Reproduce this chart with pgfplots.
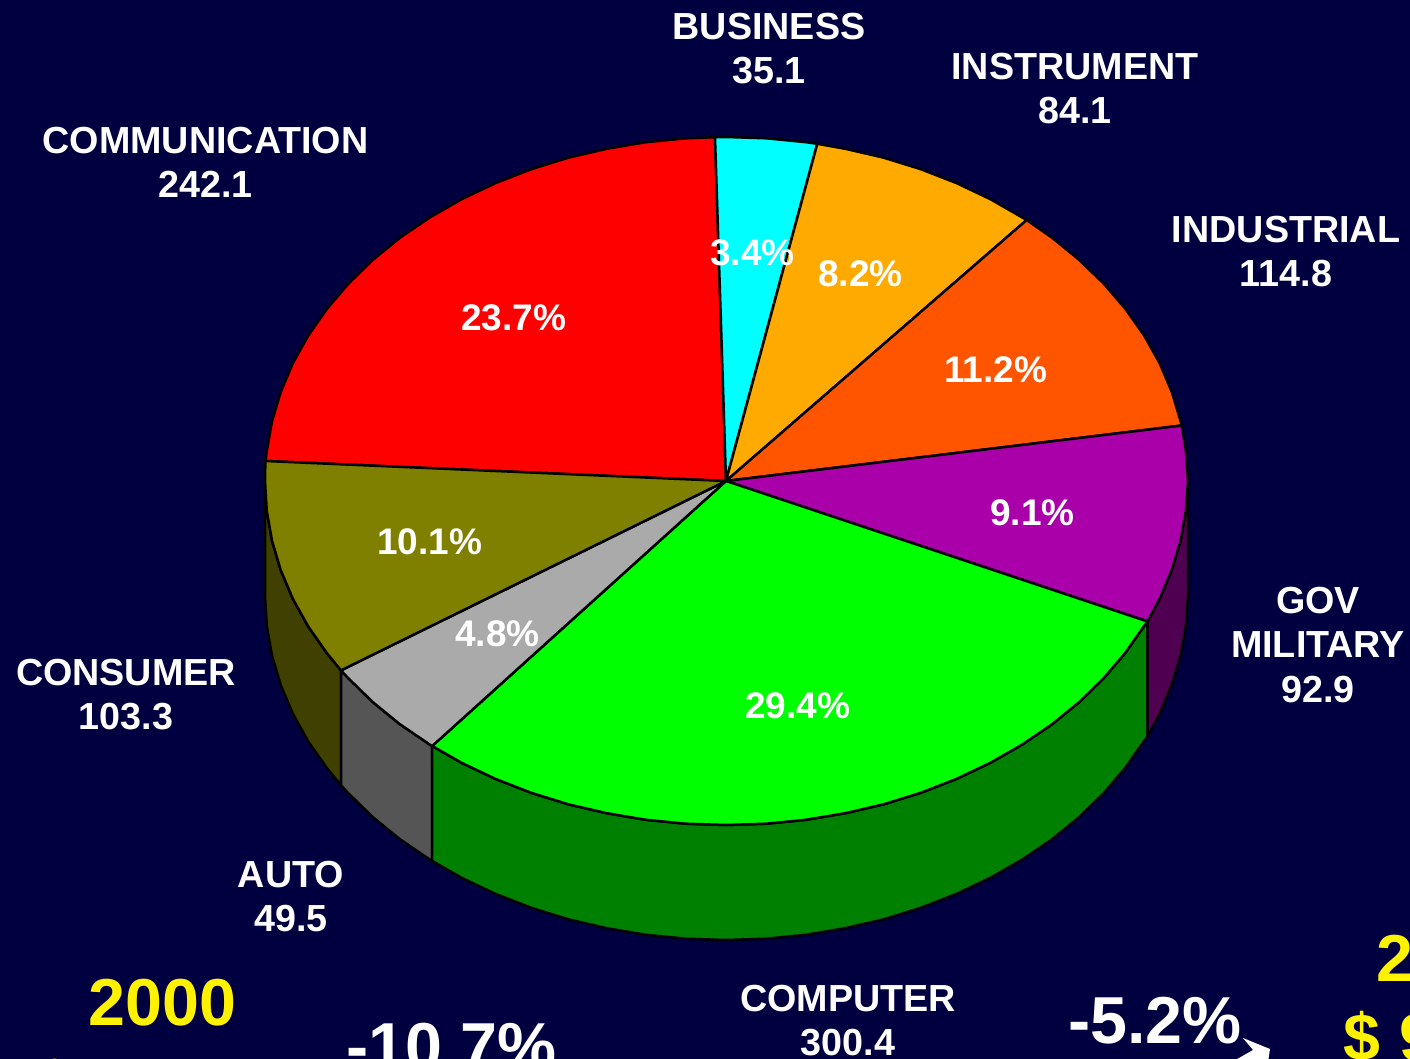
\documentclass[border=0pt]{standalone}
\usepackage{fontspec}
\setmainfont{Liberation Sans}
\usepackage{pgfplots}
\pgfplotsset{compat=1.18}

\definecolor{bg}{HTML}{000040}

% one unit of the axis is one pixel of the reference, y runs downwards
\newcommand{\lab}[3]{\node[white,align=center,font=\fontsize{18.85}{22.3}\selectfont\bfseries] at (axis cs:#1,#2) {#3};}
\newcommand{\pct}[3]{\node[white,font=\fontsize{18.5}{22}\selectfont\bfseries] at (axis cs:#1,#2) {#3};}
\newcommand{\bigt}[4]{\node[#4,anchor=base,font=\fontsize{33.2}{36}\selectfont\bfseries] at (axis cs:#1,#2) {#3};}

\begin{document}
\begin{tikzpicture}
\fill[bg] (0,0) rectangle (705pt,529.5pt);
\begin{axis}[
    at={(0,0)}, anchor=south west,
    scale only axis,
    width=705pt, height=529.5pt,
    xmin=0, xmax=1410, ymin=0, ymax=1059,
    y dir=reverse,
    hide axis,
    clip=true,
    every axis plot/.append style={line width=1.25pt, line join=round},
]
% sides
\addplot[fill={rgb,255:red,64;green,64;blue,0}, draw=black] coordinates {
 (265,481) (266.8,511) (272,540.7) (280.7,570) (292.8,598.7) (308.2,626.4) (326.8,653) (341,670.4)
 (341,785.4) (326.8,768) (308.2,741.4) (292.8,713.7) (280.7,685) (272,655.7) (266.8,626) (265,596)
} -- cycle;
\addplot[fill={rgb,255:red,85;green,85;blue,85}, draw=black] coordinates {
 (341,670.4) (348.4,678.3) (372.9,702.2) (400,724.3) (429.7,744.5) (432.2,746)
 (432.2,861) (429.7,859.5) (400,839.3) (372.9,817.2) (348.4,793.3) (341,785.4)
} -- cycle;
\addplot[fill={rgb,255:red,0;green,128;blue,0}, draw=black] coordinates {
 (432.2,746) (461.6,762.8) (495.5,778.9) (531.2,792.8) (568.3,804.3) (606.7,813.2) (646,819.8) (685.8,823.7) (726,825)
 (766.2,823.7) (806,819.8) (845.3,813.2) (883.7,804.3) (920.8,792.8) (956.5,778.9) (990.4,762.8) (1022.3,744.5)
 (1052,724.3) (1079.1,702.2) (1103.6,678.3) (1125.2,653) (1143.8,626.4) (1147.6,621.5)
 (1147.6,736.5) (1143.8,741.4) (1125.2,768) (1103.6,793.3) (1079.1,817.2) (1052,839.3) (1022.3,859.5)
 (990.4,877.8) (956.5,893.9) (920.8,907.8) (883.7,919.3) (845.3,928.2) (806,934.8) (766.2,938.7) (726,940)
 (685.8,938.7) (646,934.8) (606.7,928.2) (568.3,919.3) (531.2,907.8) (495.5,893.9) (461.6,877.8) (432.2,861)
} -- cycle;
\addplot[fill={rgb,255:red,80;green,0;blue,80}, draw=black] coordinates {
 (1147.6,621.5) (1159.7,598.7) (1171.8,570) (1180.6,540.7) (1185.9,511) (1188,481)
 (1188,596) (1185.9,626) (1180.6,655.7) (1171.8,685) (1159.7,713.7) (1147.6,736.5)
} -- cycle;
% top of the pie
\addplot[fill={rgb,255:red,255;green,0;blue,0}, draw=black] coordinates {
 (726,481) (715,137.2) (685.8,138.3) (646,142.2) (606.7,148.8) (568.3,157.7) (531.2,169.2) (495.5,183.1)
 (461.6,199.2) (429.7,217.5) (400,237.7) (372.9,259.8) (348.4,283.7) (326.8,309) (308.2,335.6)
 (292.8,363.3) (280.7,392) (272,421.3) (266.8,451) (265.4,461)
} -- cycle;
\addplot[fill={rgb,255:red,0;green,255;blue,255}, draw=black] coordinates {
 (726,481) (817.3,143.8) (806,142.2) (766.2,138.3) (726,137) (715,137.2)
} -- cycle;
\addplot[fill={rgb,255:red,255;green,170;blue,0}, draw=black] coordinates {
 (726,481) (1026.7,220) (1022.3,217.5) (990.4,199.2) (956.5,183.1) (920.8,169.2) (883.7,157.7) (845.3,148.8) (817.3,143.8)
} -- cycle;
\addplot[fill={rgb,255:red,255;green,85;blue,0}, draw=black] coordinates {
 (726,481) (1181.8,425.5) (1180.6,421.3) (1171.8,392) (1159.7,363.3) (1144.2,335.6) (1125.5,309) (1103.8,283.7)
 (1079.1,259.8) (1052,237.7) (1026.7,220)
} -- cycle;
\addplot[fill={rgb,255:red,170;green,0;blue,170}, draw=black] coordinates {
 (726,481) (1147.6,621.5) (1159.7,598.7) (1171.8,570) (1180.6,540.7) (1185.9,511) (1188,481) (1185.9,451) (1181.8,425.5)
} -- cycle;
\addplot[fill={rgb,255:red,0;green,255;blue,0}, draw=black] coordinates {
 (726,481) (432.2,746) (461.6,762.8) (495.5,778.9) (531.2,792.8) (568.3,804.3) (606.7,813.2) (646,819.8) (685.8,823.7) (726,825)
 (766.2,823.7) (806,819.8) (845.3,813.2) (883.7,804.3) (920.8,792.8) (956.5,778.9) (990.4,762.8) (1022.3,744.5)
 (1052,724.3) (1079.1,702.2) (1103.6,678.3) (1125.2,653) (1143.8,626.4) (1147.6,621.5)
} -- cycle;
\addplot[fill={rgb,255:red,170;green,170;blue,170}, draw=black] coordinates {
 (726,481) (341,670.4) (348.4,678.3) (372.9,702.2) (400,724.3) (429.7,744.5) (432.2,746)
} -- cycle;
\addplot[fill={rgb,255:red,128;green,128;blue,0}, draw=black] coordinates {
 (726,481) (265.4,461) (265,481) (266.8,511) (272,540.7) (280.7,570) (292.8,598.7) (308.2,626.4) (326.8,653) (341,670.4)
} -- cycle;
% arrow head beside -5.2%
\addplot[fill=white, draw=none] coordinates {
 (1243,1038) (1270,1049) (1268,1062) (1232,1062) (1253,1050)
} -- cycle;

\lab{769}{48.5}{BUSINESS\\35.1}
\lab{1075}{88.5}{INSTRUMENT\\84.1}
\lab{1286}{251.5}{INDUSTRIAL\\114.8}
\lab{205.5}{162.5}{COMMUNICATION\\242.1}
\lab{1318}{645}{GOV\\MILITARY\\92.9}
\lab{126}{694.5}{CONSUMER\\103.3}
\lab{291}{896.5}{AUTO\\49.5}
\lab{848}{1020.5}{COMPUTER\\300.4}

\pct{513.5}{318}{23.7\%}
\pct{752.5}{253}{3.4\%}
\pct{860.5}{274}{8.2\%}
\pct{995.5}{370}{11.2\%}
\pct{1032.5}{513}{9.1\%}
\pct{797.5}{706}{29.4\%}
\pct{429.5}{542}{10.1\%}
\pct{497.5}{634}{4.8\%}

\bigt{162.5}{1025}{2000}{yellow}
\bigt{451.5}{1069}{-10.7\%}{white}
\bigt{1155}{1043}{-5.2\%}{white}
\bigt{1450}{981}{2001}{yellow}
\bigt{1390}{1060}{\$ 9}{yellow}
\bigt{55}{1108}{\$}{yellow}
\end{axis}
\pgfresetboundingbox
\path (0,0) rectangle (705pt,529.5pt);
\end{tikzpicture}
\end{document}
